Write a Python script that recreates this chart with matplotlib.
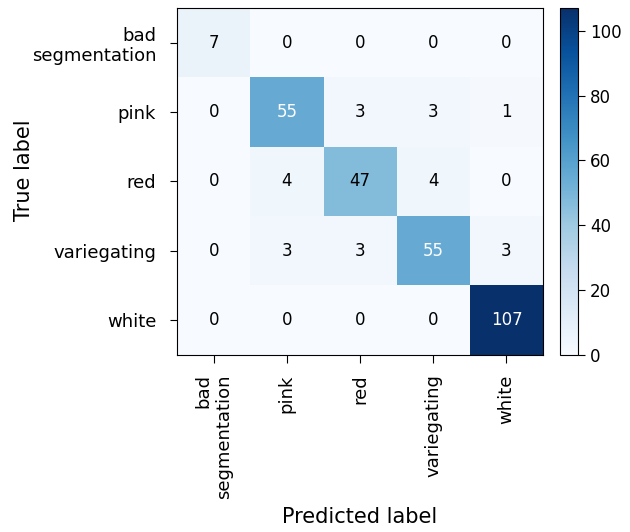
import numpy as np
import matplotlib
matplotlib.use('Agg')
import matplotlib.pyplot as plt

# confusion matrix values
classes = ['bad\nsegmentation', 'pink', 'red', 'variegating', 'white']
cm = np.array([[7, 0, 0, 0, 0],
               [0, 55, 3, 3, 1],
               [0, 4, 47, 4, 0],
               [0, 3, 3, 55, 3],
               [0, 0, 0, 0, 107]])
cbar_ticks = [0, 20, 40, 60, 80, 100]

fig = plt.figure(figsize=(6.3, 5.32), dpi=100)
ax = fig.add_axes([0.281, 0.333, 0.581, 0.652])
cax = fig.add_axes([0.889, 0.333, 0.029, 0.652])

im = ax.imshow(cm, interpolation='nearest', cmap=plt.cm.Blues, aspect='auto')
cb = fig.colorbar(im, cax=cax, ticks=cbar_ticks)
cb.ax.tick_params(labelsize=12, length=5)

ticks = np.arange(len(classes))
ax.set_xticks(ticks)
ax.set_yticks(ticks)
ax.set_xticklabels(classes, rotation=90, fontsize=13, multialignment='right')
ax.set_yticklabels(classes, fontsize=13, multialignment='right')
ax.tick_params(axis='x', length=6, pad=8)
ax.tick_params(axis='y', length=5, pad=10)

thresh = cm.max() / 2.
for i in range(cm.shape[0]):
    for j in range(cm.shape[1]):
        ax.text(j, i, format(cm[i, j], 'd'),
                ha='center', va='center', fontsize=12,
                color='white' if cm[i, j] > thresh else 'black')

ax.set_ylabel('True label', fontsize=15)
ax.yaxis.set_label_coords(-0.39, 0.533)
ax.set_xlabel('Predicted label', fontsize=15, labelpad=6)

fig.savefig('out.png', dpi=100)
